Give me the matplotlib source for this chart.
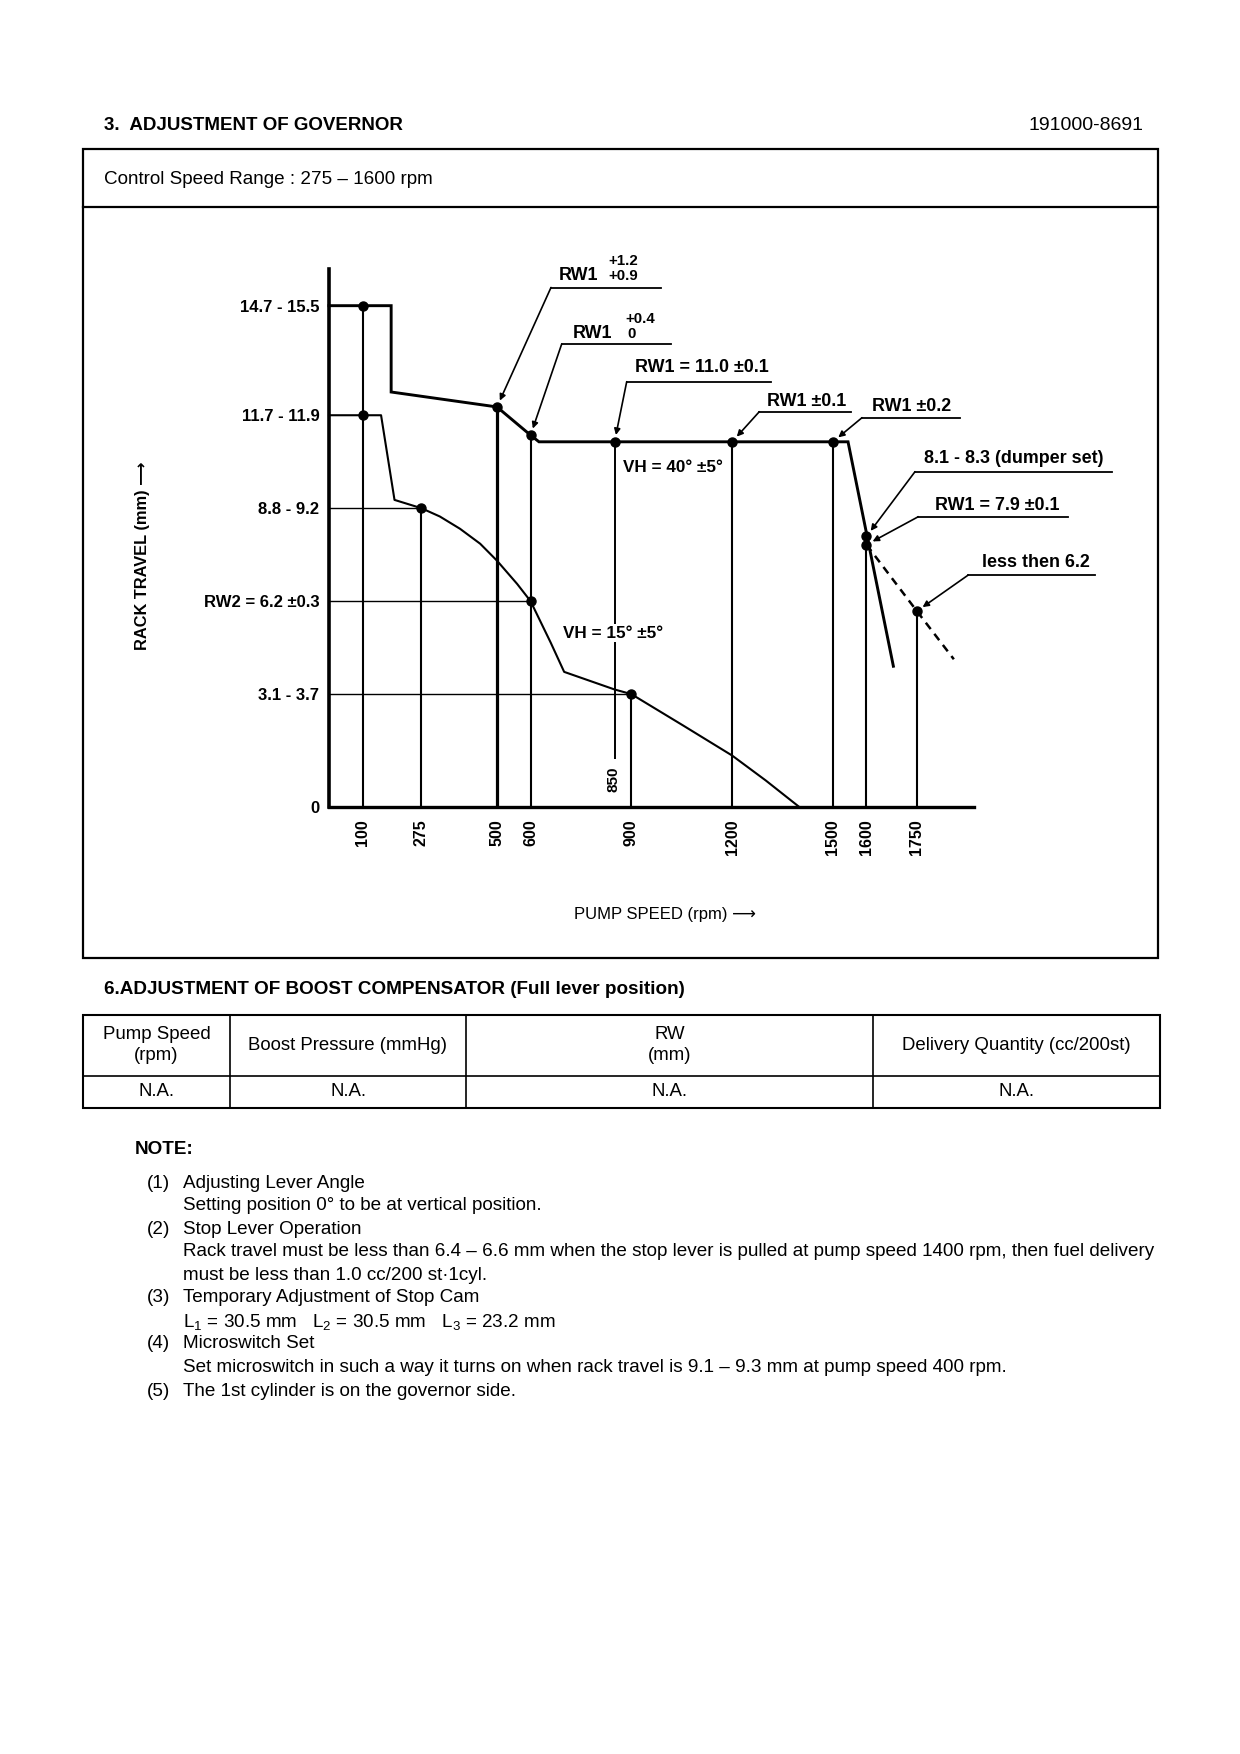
import matplotlib
matplotlib.use('Agg')
import matplotlib.pyplot as plt
from matplotlib.patches import Rectangle

plt.rcParams['font.family'] = ['Liberation Sans', 'DejaVu Sans']
plt.rcParams['mathtext.default'] = 'regular'

# ---------------- data (rpm / rack travel mm) ----------------
upper_rpm = [0, 185, 185, 500, 600, 625, 1545, 1680]
upper_mm = [15.1, 15.1, 12.5, 12.05, 11.2, 11.0, 11.0, 4.24]

lower_rpm = [0, 155, 195, 275, 330, 390, 450, 500, 560, 600, 660, 700, 850, 900, 1055, 1200, 1300, 1400]
lower_mm = [11.8, 11.8, 9.25, 9.0, 8.75, 8.38, 7.93, 7.42, 6.72, 6.2, 4.95, 4.07, 3.54, 3.4, 2.45, 1.55, 0.8, 0.0]

stop_rpm = [1600, 1750, 1860]
stop_mm = [7.9, 5.9, 4.45]

point_rpm = [100, 500, 600, 850, 1200, 1500, 1600, 1600, 1750, 100, 275, 600, 900]
point_mm = [15.1, 12.05, 11.2, 11.0, 11.0, 11.0, 8.15, 7.9, 5.9, 11.8, 9.0, 6.2, 3.4]

drop_rpm = [100, 275, 500, 600, 900, 1200, 1500, 1600, 1750]
drop_mm = [15.1, 9.0, 12.05, 11.2, 3.4, 11.0, 11.0, 7.9, 5.9]

ref_mm = [9.0, 6.2, 3.4]
ref_rpm = [275, 600, 900]

set_rpm = 850
set_mm = 11.0
set_low_mm = 1.45

xtick_values = [100, 275, 500, 600, 900, 1200, 1500, 1600, 1750]
xtick_labels = ['100', '275', '500', '600', '900', '1200', '1500', '1600', '1750']
ytick_values = [0, 3.4, 6.2, 9.0, 11.8, 15.1]
ytick_labels = ['0', '3.1 - 3.7', 'RW2 = 6.2 \u00b10.3', '8.8 - 9.2', '11.7 - 11.9', '14.7 - 15.5']

callout_labels = ['RW1', 'RW1', 'RW1 = 11.0 \u00b10.1', 'RW1 \u00b10.1', 'RW1 \u00b10.2',
                  '8.1 - 8.3 (dumper set)', 'RW1 = 7.9 \u00b10.1', 'less then 6.2']
callout_rpm = [500, 600, 850, 1200, 1500, 1600, 1600, 1750]
callout_mm = [12.05, 11.2, 11.0, 11.0, 11.0, 8.15, 7.9, 5.9]

table_header = ['Pump Speed\n(rpm)', 'Boost Pressure (mmHg)', 'RW\n(mm)', 'Delivery Quantity (cc/200st)']
table_values = ['N.A.', 'N.A.', 'N.A.', 'N.A.']

note_items = ['(1)', '', '(2)', '', '', '(3)', '', '(4)', '', '(5)']
note_lines = [
    'Adjusting Lever Angle',
    'Setting position 0\u00b0 to be at vertical position.',
    'Stop Lever Operation',
    'Rack travel must be less than 6.4 \u2013 6.6 mm when the stop lever is pulled at pump speed 1400 rpm, then fuel delivery',
    'must be less than 1.0 cc/200 st\u00b71cyl.',
    'Temporary Adjustment of Stop Cam',
    'L$_1$ = 30.5 mm   L$_2$ = 30.5 mm   L$_3$ = 23.2 mm',
    'Microswitch Set',
    'Set microswitch in such a way it turns on when rack travel is 9.1 \u2013 9.3 mm at pump speed 400 rpm.',
    'The 1st cylinder is on the governor side.',
]

# ---------------- figure / page ----------------
W, H = 1240, 1754
fig = plt.figure(figsize=(W / 100, H / 100), dpi=100)
fig.patch.set_facecolor('white')
page = fig.add_axes([0, 0, 1, 1])
page.set_xlim(0, W)
page.set_ylim(H, 0)
page.axis('off')

NOTE_FS = 13.6

# header
page.text(104, 125, '3.  ADJUSTMENT OF GOVERNOR', fontsize=13.5, fontweight='bold', ha='left', va='center')
page.text(1143, 125, '191000-8691', fontsize=14, ha='right', va='center')

# outer box
page.add_patch(Rectangle((83, 149), 1158 - 83, 958 - 149, fill=False, lw=1.6, ec='k'))
page.plot([83, 1158], [207, 207], color='k', lw=1.6)
page.text(104, 179, 'Control Speed Range : 275 \u2013 1600 rpm', fontsize=13.6, ha='left', va='center')

# ---------------- chart ----------------
X0, X1 = 329, 974
Y0, Y1 = 807, 269
PX_PER_MM = 33.2
ax = fig.add_axes([X0 / W, 1 - Y0 / H, (X1 - X0) / W, (Y0 - Y1) / H])
ax.set_xlim(0, 1920)
ax.set_ylim(0, (Y0 - Y1) / PX_PER_MM)
ax.patch.set_alpha(0)
for s in ['top', 'right']:
    ax.spines[s].set_visible(False)
ax.spines['left'].set_linewidth(2.6)
ax.spines['bottom'].set_linewidth(2.4)
ax.set_xticks(xtick_values)
ax.set_xticklabels(xtick_labels, rotation=90, fontsize=11.5, fontweight='bold', va='top')
ax.tick_params(axis='x', length=0, pad=9)
ax.set_yticks(ytick_values)
ax.set_yticklabels(ytick_labels, fontsize=12, fontweight='bold')
ax.tick_params(axis='y', length=0, pad=7)

ax.plot(upper_rpm, upper_mm, color='k', lw=2.1, clip_on=False, solid_joinstyle='miter', zorder=4)
ax.plot(lower_rpm, lower_mm, color='k', lw=1.5, clip_on=False, zorder=4)
ax.plot(stop_rpm, stop_mm, color='k', lw=1.8, ls=(0, (3.2, 2.4)), clip_on=False, zorder=4)

vl_widths = [1.5, 1.5, 2.3, 1.5, 1.5, 1.5, 1.5, 1.5, 1.5]
ax.vlines(drop_rpm, 0, drop_mm, colors='k', linewidths=vl_widths, zorder=3)
ax.hlines(ref_mm, 0, ref_rpm, colors='k', linewidths=1.0, zorder=3)
ax.vlines([set_rpm], set_low_mm, set_mm, colors='k', linewidths=1.4, zorder=3)
ax.plot(point_rpm, point_mm, 'o', color='k', ms=6.5, ls='none', zorder=6, clip_on=False)

# chart texts
ax.text(613, 779, '850', transform=page.transData, rotation=90, ha='center', va='center',
        fontsize=11, fontweight='bold', zorder=7)
ax.text(623, 467, 'VH = 40\u00b0 \u00b15\u00b0', transform=page.transData, ha='left', va='center',
        fontsize=12.3, fontweight='bold', zorder=7)
ax.text(563, 633, 'VH = 15\u00b0 \u00b15\u00b0', transform=page.transData, ha='left', va='center',
        fontsize=12.3, fontweight='bold', zorder=7,
        bbox=dict(facecolor='white', edgecolor='none', pad=1.0))
page.text(143, 556, 'RACK TRAVEL (mm) \u27f6', rotation=90, ha='center', va='center', fontsize=11.8,
          fontweight='bold', family=['Liberation Sans', 'DejaVu Sans'])
page.text(665, 915, 'PUMP SPEED (rpm) \u27f6', ha='center', va='center', fontsize=12,
          family=['Liberation Sans', 'DejaVu Sans'])

# callouts: elbow x, elbow y, line end x, text x, text y (page pixels)
callout_layout = [
    (551, 287.5, 661, 559, 275.5),
    (561.7, 344, 671, 573, 333.5),
    (626.7, 381.7, 771, 635, 367.5),
    (759.3, 411.7, 851, 767, 401.7),
    (862, 417.7, 960, 871.7, 406.7),
    (915, 471.7, 1111.7, 924, 458.3),
    (918.3, 516.7, 1068.3, 935, 506),
    (968.3, 575, 1095, 981.7, 562.7),
]
for lab, r, m, (ex, ey, lx, tx, ty) in zip(callout_labels, callout_rpm, callout_mm, callout_layout):
    page.plot([ex, lx], [ey, ey], color='k', lw=1.3)
    ax.annotate('', xy=(r, m), xycoords='data', xytext=(ex, ey), textcoords=page.transData,
                arrowprops=dict(arrowstyle='-|>', color='k', lw=1.2, mutation_scale=9,
                                shrinkA=0, shrinkB=5))
    page.text(tx, ty, lab, ha='left', va='center', fontsize=12.9, fontweight='bold')

page.text(608, 261, '+1.2', ha='left', va='center', fontsize=10.8, fontweight='bold')
page.text(608, 276, '+0.9', ha='left', va='center', fontsize=10.8, fontweight='bold')
page.text(625, 319, '+0.4', ha='left', va='center', fontsize=10.8, fontweight='bold')
page.text(627, 334, '0', ha='left', va='center', fontsize=10.8, fontweight='bold')

# ---------------- boost compensator table ----------------
page.text(104, 990, '6.ADJUSTMENT OF BOOST COMPENSATOR (Full lever position)', fontsize=13.6,
          fontweight='bold', ha='left', va='center')
tx0, tx1 = 83, 1160
ty0, tmid, ty1 = 1015, 1075.5, 1108
page.add_patch(Rectangle((tx0, ty0), tx1 - tx0, ty1 - ty0, fill=False, lw=1.5, ec='k'))
page.plot([tx0, tx1], [tmid, tmid], color='k', lw=1.2)
col_edges = [tx0, 230, 466, 873, tx1]
for cx in col_edges[1:-1]:
    page.plot([cx, cx], [ty0, ty1], color='k', lw=1.2)
for i, (hd, val) in enumerate(zip(table_header, table_values)):
    cx = (col_edges[i] + col_edges[i + 1]) / 2
    page.text(cx, (ty0 + tmid) / 2, hd, ha='center', va='center', fontsize=13.4, linespacing=1.3)
    page.text(cx, (tmid + ty1) / 2, val, ha='center', va='center', fontsize=13.4)

# ---------------- notes ----------------
page.text(135, 1150, 'NOTE:', fontsize=13.6, fontweight='bold', ha='left', va='center')
note_y = [1183, 1206, 1230, 1252, 1276, 1298, 1321.5, 1344, 1367, 1391]
for item, line, y in zip(note_items, note_lines, note_y):
    if item:
        page.text(146.5, y, item, fontsize=NOTE_FS, ha='left', va='center')
    page.text(183, y, line, fontsize=NOTE_FS, ha='left', va='center')

fig.savefig('out.png', dpi=100, facecolor='white')
